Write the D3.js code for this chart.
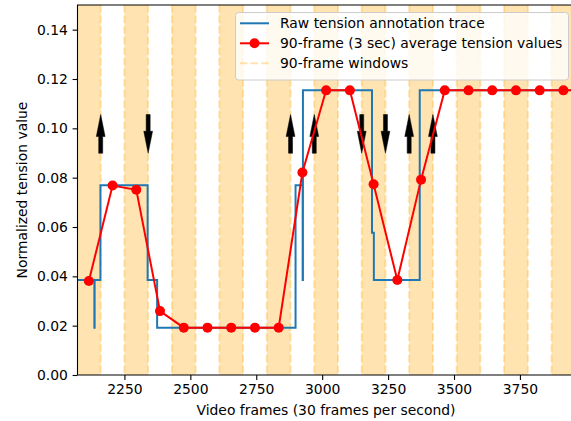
<!DOCTYPE html>
<html>
<head>
<meta charset="utf-8">
<script src="https://cdn.jsdelivr.net/npm/d3@7"></script>
<style>
  body { margin: 0; background: #fff; }
  svg { font-family: "DejaVu Sans", sans-serif; display: block; }
</style>
</head>
<body>
<svg id="chart" width="571" height="421"></svg>
<script>
// data
var windowStarts = [2070, 2160, 2250, 2340, 2430, 2520, 2610, 2700, 2790, 2880, 2970,
                    3060, 3150, 3240, 3330, 3420, 3510, 3600, 3690, 3780, 3870, 3960];
var windowLen = 90;
var avgValues = [0.0381, 0.0768, 0.0751, 0.0259, 0.0192, 0.0192, 0.0192, 0.0192, 0.0192, 0.0821, 0.1154,
                 0.1154, 0.0773, 0.0385, 0.0792, 0.1154, 0.1154, 0.1154, 0.1154, 0.1154, 0.1154, 0.1154];
// raw trace change points (frame, value), drawn as steps
var rawFrames = [2060, 2136, 2137, 2159, 2338, 2374, 2899, 2926, 2927, 3189, 3196, 3370, 4100];
var rawValues = [0.0385, 0.0192, 0.0385, 0.0769, 0.0385, 0.0192, 0.0769, 0.0385, 0.1154, 0.0577, 0.0385, 0.1154, 0.1154];
// direction arrows at window boundaries
var arrowFrames = [2160, 2340, 2880, 2970, 3150, 3240, 3330, 3420];
var arrowDirs = ["up", "down", "up", "up", "down", "down", "up", "up"];
var arrowRange = [0.0899, 0.1056];
var xTicks = [2250, 2500, 2750, 3000, 3250, 3500, 3750];
var yTicks = [0, 0.02, 0.04, 0.06, 0.08, 0.10, 0.12, 0.14];
var legendLabels = ["Raw tension annotation trace", "90-frame (3 sec) average tension values", "90-frame windows"];

// axes box (the right spine falls just off the picture)
var pLeft = 77.5, pRight = 574.5, pTop = 5, pBottom = 375;
var x = d3.scaleLinear().domain([2072, 3957]).range([pLeft, pRight]);
var y = d3.scaleLinear().domain([0, 0.15]).range([pBottom, pTop]);
var fontSize = 13.9;

var svg = d3.select("#chart");
svg.append("defs").append("clipPath").attr("id", "plotclip")
  .append("rect").attr("x", pLeft).attr("y", pTop).attr("width", pRight - pLeft).attr("height", pBottom - pTop);

var plot = svg.append("g").attr("clip-path", "url(#plotclip)");

// shaded windows (every other one)
plot.selectAll("rect.win").data(windowStarts.filter(function(d, i) { return i % 2 === 0; }))
  .enter().append("rect").attr("class", "win")
  .attr("x", function(d) { return x(d); })
  .attr("y", pTop)
  .attr("width", function(d) { return x(d + windowLen) - x(d); })
  .attr("height", pBottom - pTop)
  .style("fill", "orange").style("fill-opacity", 0.3);

// dashed window edges
var edges = windowStarts.concat([windowStarts[windowStarts.length - 1] + windowLen]);
plot.selectAll("line.edge").data(edges).enter().append("line").attr("class", "edge")
  .attr("x1", function(d) { return x(d); }).attr("x2", function(d) { return x(d); })
  .attr("y1", pTop).attr("y2", pBottom)
  .style("stroke", "orange").style("stroke-opacity", 0.3)
  .style("stroke-width", 2).style("stroke-dasharray", "7.4,3.2");

// arrows
var headLen = 22, headHalf = 4.4, shaftHalf = 2;
plot.selectAll("path.arrow").data(arrowFrames).enter().append("path").attr("class", "arrow")
  .attr("d", function(d, i) {
    var cx = x(d);
    var tip, tail, s;
    if (arrowDirs[i] === "up") { tip = y(arrowRange[1]); tail = y(arrowRange[0]); s = 1; }
    else { tip = y(arrowRange[0]); tail = y(arrowRange[1]); s = -1; }
    var hb = tip + s * headLen;
    return "M" + (cx - shaftHalf) + "," + tail +
      "L" + (cx - shaftHalf) + "," + hb +
      "L" + (cx - headHalf) + "," + hb +
      "L" + cx + "," + tip +
      "L" + (cx + headHalf) + "," + hb +
      "L" + (cx + shaftHalf) + "," + hb +
      "L" + (cx + shaftHalf) + "," + tail + "Z";
  })
  .style("fill", "black").style("stroke", "black").style("stroke-width", 0.5);

// raw trace
var rawLine = d3.line().curve(d3.curveStepAfter)
  .x(function(d, i) { return x(rawFrames[i]); })
  .y(function(d) { return y(d); });
plot.append("path").datum(rawValues).attr("d", rawLine)
  .style("fill", "none").style("stroke", "#1f77b4").style("stroke-width", 2);

// averages
var avgLine = d3.line()
  .x(function(d, i) { return x(windowStarts[i] + windowLen / 2); })
  .y(function(d) { return y(d); });
plot.append("path").datum(avgValues).attr("d", avgLine)
  .style("fill", "none").style("stroke", "red").style("stroke-width", 2);
plot.selectAll("circle.avg").data(avgValues).enter().append("circle").attr("class", "avg")
  .attr("cx", function(d, i) { return x(windowStarts[i] + windowLen / 2); })
  .attr("cy", function(d) { return y(d); })
  .attr("r", 5).style("fill", "red");

// axes
var xAxis = svg.append("g").attr("transform", "translate(0," + pBottom + ")")
  .call(d3.axisBottom(x).tickValues(xTicks).tickSize(4.9).tickPadding(4.7).tickFormat(d3.format("d")));
var yAxis = svg.append("g").attr("transform", "translate(" + pLeft + ",0)")
  .call(d3.axisLeft(y).tickValues(yTicks).tickSize(4.9).tickPadding(4.7).tickFormat(d3.format(".2f")));
[xAxis, yAxis].forEach(function(a) {
  a.select(".domain").remove();
  a.selectAll("line").style("stroke", "black").style("stroke-width", 1.1);
  a.selectAll("text").style("font-size", fontSize + "px").style("fill", "black")
    .style("font-family", "DejaVu Sans");
});
svg.append("path")
  .attr("d", "M" + pLeft + "," + pBottom + "V" + pTop + "H" + pRight + "M" + pLeft + "," + pBottom + "H" + pRight)
  .style("fill", "none").style("stroke", "black").style("stroke-width", 1.1);

svg.append("text").attr("x", (pLeft + pRight) / 2).attr("y", 415)
  .style("text-anchor", "middle").style("font-size", fontSize + "px")
  .text("Video frames (30 frames per second)");
svg.append("text").attr("transform", "translate(27," + (pTop + pBottom) / 2 + ") rotate(-90)")
  .style("text-anchor", "middle").style("font-size", fontSize + "px")
  .text("Normalized tension value");

// legend
var lg = svg.append("g").attr("transform", "translate(235.5,12.5)");
lg.append("rect").attr("width", 333).attr("height", 67.5).attr("rx", 3)
  .style("fill", "white").style("fill-opacity", 0.8).style("stroke", "#cccccc").style("stroke-width", 1);
var rows = [10.8, 30.8, 50.8];
lg.append("line").attr("x1", 4.5).attr("x2", 33.5).attr("y1", rows[0]).attr("y2", rows[0])
  .style("stroke", "#1f77b4").style("stroke-width", 2);
lg.append("line").attr("x1", 4.5).attr("x2", 33.5).attr("y1", rows[1]).attr("y2", rows[1])
  .style("stroke", "red").style("stroke-width", 2);
lg.append("circle").attr("cx", 19).attr("cy", rows[1]).attr("r", 5).style("fill", "red");
lg.append("line").attr("x1", 4.5).attr("x2", 33.5).attr("y1", rows[2]).attr("y2", rows[2])
  .style("stroke", "orange").style("stroke-opacity", 0.3).style("stroke-width", 2).style("stroke-dasharray", "7.4,3.2");
lg.selectAll("text.lab").data(legendLabels).enter().append("text").attr("class", "lab")
  .attr("x", 44.5).attr("y", function(d, i) { return rows[i]; })
  .attr("dy", "0.35em").style("font-size", fontSize + "px").text(function(d) { return d; });
</script>
</body>
</html>
